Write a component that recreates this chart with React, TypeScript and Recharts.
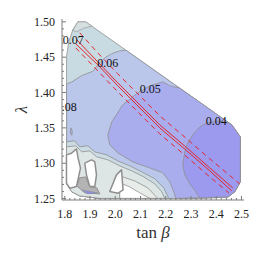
import { Scatter, ScatterChart, XAxis, YAxis } from 'recharts'

// axis ticks (tan beta / lambda)
const xMajor = [1.8, 1.9, 2.0, 2.1, 2.2, 2.3, 2.4, 2.5]
const xMinor = [
  1.8, 1.82, 1.84, 1.86, 1.88, 1.9, 1.92, 1.94, 1.96, 1.98, 2.0, 2.02, 2.04, 2.06, 2.08, 2.1, 2.12, 2.14,
  2.16, 2.18, 2.2, 2.22, 2.24, 2.26, 2.28, 2.3, 2.32, 2.34, 2.36, 2.38, 2.4, 2.42, 2.44, 2.46, 2.48, 2.5,
]
const yMajor = [1.25, 1.3, 1.35, 1.4, 1.45, 1.5]
const yMinor = [
  1.25, 1.26, 1.27, 1.28, 1.29, 1.3, 1.31, 1.32, 1.33, 1.34, 1.35, 1.36, 1.37, 1.38, 1.39, 1.4, 1.41, 1.42,
  1.43, 1.44, 1.45, 1.46, 1.47, 1.48, 1.49, 1.5,
]

// contour regions, [tanBeta, lambda]
const outline = [
  [1.852, 1.5], [1.883, 1.5], [2.462, 1.354], [2.495, 1.337], [2.495, 1.274], [2.474, 1.26], [2.446, 1.252],
  [2.295, 1.25], [1.939, 1.25], [1.859, 1.254], [1.828, 1.26], [1.808, 1.271], [1.807, 1.451], [1.816, 1.472],
  [1.832, 1.489],
]
const cap = [[1.832, 1.488], [1.852, 1.5], [1.883, 1.5], [1.907, 1.494], [1.875, 1.491], [1.848, 1.486]]
const regionB = [
  [1.807, 1.412], [1.828, 1.415], [1.867, 1.424], [1.911, 1.43], [1.931, 1.439], [1.958, 1.449], [1.986, 1.455],
  [2.018, 1.459], [2.042, 1.46], [2.462, 1.354], [2.495, 1.337], [2.495, 1.274], [2.474, 1.26], [2.446, 1.252],
  [2.295, 1.25], [1.939, 1.25], [1.859, 1.254], [1.828, 1.26], [1.808, 1.271],
]
const regionC = [
  [2.2556, 1.4062], [2.216, 1.4095], [2.1883, 1.4151], [2.1368, 1.4095], [2.0892, 1.3996], [2.0298, 1.3826],
  [1.9862, 1.3585], [1.9704, 1.3401], [1.9783, 1.326], [2.01, 1.3147], [2.0694, 1.3019], [2.1368, 1.2934],
  [2.1883, 1.2864], [2.216, 1.2736], [2.2319, 1.2595], [2.2398, 1.2503], [2.4458, 1.2524], [2.4735, 1.2595],
  [2.4953, 1.2736], [2.4953, 1.3373], [2.4616, 1.3543],
]
const regionD = [
  [2.4537, 1.3563], [2.4141, 1.3599], [2.3626, 1.3571], [2.3349, 1.3514], [2.3071, 1.3401], [2.2873, 1.3288],
  [2.2754, 1.3161], [2.2675, 1.2977], [2.2754, 1.2835], [2.2952, 1.2708], [2.319, 1.2595], [2.3349, 1.251],
  [2.4458, 1.2524], [2.4735, 1.2595], [2.4953, 1.2736], [2.4953, 1.3373], [2.4616, 1.3543],
]
const bandE = [
  [1.8067, 1.3303], [1.8396, 1.3317], [1.8594, 1.3232], [1.8911, 1.3246], [1.9189, 1.3161], [1.9664, 1.3118],
  [2.01, 1.3033], [2.0575, 1.2963], [2.1051, 1.2878], [2.1566, 1.2779], [2.1922, 1.2651], [2.212, 1.2503],
  [1.9387, 1.2503], [1.8594, 1.2538], [1.8277, 1.2595], [1.8079, 1.2708],
]
const bandF = [
  [1.8067, 1.3232], [1.8436, 1.3246], [1.8674, 1.3161], [1.899, 1.3175], [1.9268, 1.309], [1.9704, 1.3048],
  [2.0179, 1.2963], [2.0655, 1.2892], [2.113, 1.2807], [2.1566, 1.2708], [2.1843, 1.2595], [2.1962, 1.2503],
  [1.9387, 1.2503], [1.8594, 1.2538], [1.8277, 1.2595], [1.8079, 1.2708],
]
const bandG = [[2.0179, 1.282], [2.0773, 1.275], [2.1288, 1.2651], [2.1685, 1.2503], [2.0179, 1.2503]]
const hole1 = [
  [1.8067, 1.3118], [1.8265, 1.3142], [1.8464, 1.3203], [1.8527, 1.3072], [1.8622, 1.293], [1.8464, 1.267],
  [1.8198, 1.2647], [1.8067, 1.2718],
]
const hole2 = [
  [1.8792, 1.3001], [1.9058, 1.3048], [1.9189, 1.3023], [1.9256, 1.2835], [1.9189, 1.267], [1.899, 1.267],
  [1.886, 1.2835],
]
const hole3 = [[2.0048, 1.2835], [2.0246, 1.2906], [2.031, 1.2623], [2.0112, 1.2576], [1.9783, 1.2599]]
const hole4 = [[2.0179, 1.2722], [2.0575, 1.2666], [2.0971, 1.2581], [2.1368, 1.2503], [2.0179, 1.2503]]
const greyKnot = [
  [1.8475, 1.268], [1.8594, 1.2793], [1.8832, 1.2807], [1.899, 1.2666], [1.9268, 1.2651], [1.9387, 1.2566],
  [1.8792, 1.2581],
]
const blueSliver = [[1.8674, 1.2623], [1.9307, 1.2581], [1.8911, 1.2566]]
const islet = [[1.8238, 1.35], [1.8297, 1.3458], [1.8277, 1.3394], [1.8218, 1.343]]

// red curves
const centralA = [
  [1.8475, 1.4745], [1.9307, 1.4434], [2.01, 1.4137], [2.0853, 1.3868], [2.1764, 1.3543], [2.2834, 1.3218],
  [2.3745, 1.2934], [2.4656, 1.2651],
]
const centralB = [
  [1.8436, 1.4689], [1.9307, 1.4392], [2.01, 1.4095], [2.0853, 1.3826], [2.1764, 1.35], [2.2834, 1.3175],
  [2.3745, 1.2892], [2.4616, 1.2609],
]
const upperBand = [
  [1.8594, 1.4844], [1.9307, 1.4561], [2.01, 1.4264], [2.0853, 1.3996], [2.1764, 1.367], [2.2834, 1.3345],
  [2.3745, 1.3062], [2.4933, 1.2708],
]
const lowerBand = [
  [1.8436, 1.4632], [1.9307, 1.4307], [2.01, 1.401], [2.0853, 1.3741], [2.1764, 1.3415], [2.2834, 1.309],
  [2.3745, 1.2807], [2.4498, 1.2581],
]

const contourLabels = [
  { x: 1.8337, y: 1.4745, label: '0.07' },
  { x: 1.9704, y: 1.442, label: '0.06' },
  { x: 2.1387, y: 1.4052, label: '0.05' },
  { x: 2.4002, y: 1.3599, label: '0.04' },
  { x: 1.8059, y: 1.3797, label: '0.08' },
]

const SERIF = "'Liberation Serif', 'DejaVu Serif', serif"
const FRAME = '#7c7c7c'
const EDGE = '#8f8f8f'
const RED = '#e3262d'

const pts = (p: number[][], close = true) => {
  const out = p.map(([x, y]) => ({ x, y }))
  return close ? [...out, out[0]] : out
}
const isMajor = (v: number, majors: number[]) => majors.some((m) => Math.abs(m - v) < 1e-6)

const Empty = () => <g />

function BottomTick({ x, y, payload }: any) {
  const major = isMajor(payload.value, xMajor)
  return (
    <g>
      <line x1={x} y1={y} x2={x} y2={y - (major ? 4 : 2)} stroke={FRAME} />
      {major && (
        <text x={x} y={y + 17.5} textAnchor="middle" style={{ fontFamily: SERIF }} fontSize={12} fill="#222">
          {payload.value.toFixed(1)}
        </text>
      )}
    </g>
  )
}
function TopTick({ x, y, payload }: any) {
  const major = isMajor(payload.value, xMajor)
  return <line x1={x} y1={y} x2={x} y2={y + (major ? 4 : 2)} stroke={FRAME} />
}
function LeftTick({ x, y, payload }: any) {
  const major = isMajor(payload.value, yMajor)
  return (
    <g>
      <line x1={x} y1={y} x2={x + (major ? 4 : 2)} y2={y} stroke={FRAME} />
      {major && (
        <text x={x - 7} y={y + 4} textAnchor="end" style={{ fontFamily: SERIF }} fontSize={12} fill="#222">
          {payload.value.toFixed(2)}
        </text>
      )}
    </g>
  )
}
function RightTick({ x, y, payload }: any) {
  const major = isMajor(payload.value, yMajor)
  return <line x1={x} y1={y} x2={x - (major ? 4 : 2)} y2={y} stroke={FRAME} />
}

function LabelMark({ cx, cy, payload }: any) {
  return (
    <text x={cx} y={cy + 4} textAnchor="middle" style={{ fontFamily: SERIF }} fontSize={12} fill="#111">
      {payload.label}
    </text>
  )
}

const xTitle = ({ viewBox }: any) => (
  <text x={viewBox.x + viewBox.width / 2} y={viewBox.y + 38} textAnchor="middle" style={{ fontFamily: SERIF }} fontSize={17} fill="#333">
    tan <tspan fontStyle="italic">β</tspan>
  </text>
)
const yTitle = ({ viewBox }: any) => {
  const cx = 21
  const cy = viewBox.y + viewBox.height / 2
  return (
    <text x={cx} y={cy} transform={`rotate(-90 ${cx} ${cy})`} textAnchor="middle" dominantBaseline="central" style={{ fontFamily: SERIF }} fontSize={17} fontStyle="italic" fill="#333">
      λ
    </text>
  )
}

const regions: [number[][], string, number][] = [
  [outline, '#c9dbe2', 0.8],
  [cap, '#d5dee1', 0.6],
  [regionB, '#bac6ea', 0.8],
  [regionC, '#a9adee', 0.8],
  [regionD, '#9c9aee', 0.8],
  [bandE, '#cbdbe3', 0.8],
  [bandF, '#dee6e5', 0.8],
  [bandG, '#e9ede9', 0.8],
  [hole4, '#ffffff', 0.8],
  [hole1, '#ffffff', 1.5],
  [hole2, '#ffffff', 1.5],
  [hole3, '#ffffff', 1.5],
  [greyKnot, '#b4b4b4', 1],
  [blueSliver, '#8d8de8', 0.5],
  [islet, '#aeb2ea', 0.8],
]

const curves: [number[][], string | undefined][] = [
  [upperBand, '5 4'],
  [centralA, undefined],
  [centralB, undefined],
  [lowerBand, '5 4'],
]

export default function App() {
  return (
    <div style={{ position: 'absolute', left: 0, top: 0, background: '#fff' }}>
      <ScatterChart width={266} height={255} margin={{ top: 19, right: 22, bottom: 0, left: 0 }}>
        <XAxis type="number" dataKey="x" domain={[1.789, 2.51]} ticks={xMinor} interval={0} allowDataOverflow
          tick={<BottomTick />} tickLine={false} tickSize={0} tickMargin={0} axisLine={{ stroke: FRAME }} height={55} label={xTitle} />
        <XAxis xAxisId="top" orientation="top" type="number" domain={[1.789, 2.51]} ticks={xMinor} interval={0} allowDataOverflow
          tick={<TopTick />} tickLine={false} tickSize={0} tickMargin={0} axisLine={{ stroke: FRAME }} height={0} />
        <YAxis type="number" dataKey="y" domain={[1.248, 1.504]} ticks={yMinor} interval={0} allowDataOverflow
          tick={<LeftTick />} tickLine={false} tickSize={0} tickMargin={0} axisLine={{ stroke: FRAME }} width={62} label={yTitle} />
        <YAxis yAxisId="right" orientation="right" type="number" domain={[1.248, 1.504]} ticks={yMinor} interval={0} allowDataOverflow
          tick={<RightTick />} tickLine={false} tickSize={0} tickMargin={0} axisLine={{ stroke: FRAME }} width={0} />
        {regions.map(([p, fill, sw], i) => (
          <Scatter key={`r${i}`} data={pts(p)} shape={Empty} isAnimationActive={false}
            line={{ fill, stroke: EDGE, strokeWidth: sw, strokeLinejoin: 'round' }} />
        ))}
        {curves.map(([p, dash], i) => (
          <Scatter key={`c${i}`} data={pts(p, false)} shape={Empty} isAnimationActive={false}
            line={{ fill: 'none', stroke: RED, strokeWidth: 1, strokeDasharray: dash }} />
        ))}
        <Scatter data={contourLabels} shape={LabelMark} isAnimationActive={false} />
      </ScatterChart>
    </div>
  )
}
